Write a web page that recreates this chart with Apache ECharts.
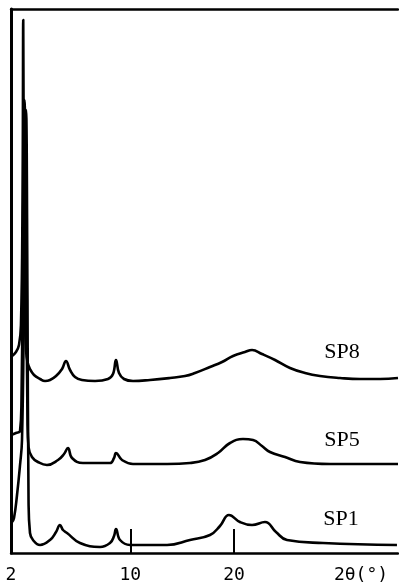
<!DOCTYPE html>
<html>
<head>
<meta charset="utf-8">
<script src="https://cdn.jsdelivr.net/npm/echarts@6/dist/echarts.min.js"></script>
<style>html,body{margin:0;padding:0;background:#fff;}#c{width:399px;height:585px;}</style>
</head>
<body>
<div id="c"></div>
<script>
// 2θ axis tick labels
const tickValues = [10, 20];
const axisMin = -1.5, axisMax = 35.8;
const originLabel = '2';
const axisTitle = '2θ(°)';
const seriesNames = ['SP8', 'SP5', 'SP1'];

// SP8
const sp8Theta = [-1.50,-1.02,-0.73,-0.54,-0.39,-0.32,-0.25,-0.15,-0.05,0.09,0.33,0.72,1.30,1.78,2.26,2.84,3.42,3.80,4.19,4.67,5.34,6.60,7.85,8.33,8.62,8.91,9.39,10.26,11.90,13.83,15.27,16.23,17.68,18.84,19.90,21.05,21.73,22.69,23.95,25.39,26.84,28.28,30.21,32.14,34.07,35.80];
const sp8Int   = [196,201,208,228,353,533,353,233,203,191,184,178,174,172,173,177,184,192,183,176,173,172,174,179,193,180,174,172,173,175,177,180,186,191,197,201,203,199,193,185,180,177,175,174,174,175];

// SP5
const sp5Theta = [-1.50,-1.02,-0.63,-0.49,-0.34,-0.20,-0.05,0.09,0.19,0.52,1.10,1.97,3.03,3.61,3.99,4.38,5.44,8.04,8.43,8.62,9.20,10.26,13.54,15.75,17.20,18.45,19.61,20.86,21.83,22.69,23.46,24.91,26.36,29.25,32.14,35.80];
const sp5Int   = [118,120,122,153,303,453,303,133,106,96,91,88,93,99,105,95,90,90,95,100,93,89,89,90,93,100,110,114,113,107,101,96,91,89,89,89];

// SP1
const sp1Theta = [-1.40,-1.21,-0.92,-0.63,-0.44,-0.25,-0.05,0.09,0.19,0.33,0.62,1.30,2.26,2.84,3.22,3.51,3.90,5.15,7.08,8.04,8.43,8.62,9.01,9.97,13.54,15.75,17.68,18.64,19.51,20.57,21.73,22.98,24.04,25.10,28.57,35.70];
const sp1Int   = [31,35,58,88,113,253,443,253,53,20,13,8,13,21,28,23,20,10,6,10,17,24,13,8,8,13,18,27,38,31,28,31,21,13,10,8];

function pairs(xs, ys){ return xs.map((x,i)=>[x, ys[i]]); }

const chart = echarts.init(document.getElementById('c'), null, {renderer:'canvas'});
const lineStyle = {color:'#000', width:2.6};
function mk(name, xs, ys){
  return {name, type:'line', data:pairs(xs,ys), showSymbol:false, symbol:'none',
    smooth:0.45, lineStyle, silent:true, animation:false, z:3};
}
chart.setOption({
  animation:false,
  backgroundColor:'#fff',
  grid:{left:11, right:1, top:9, bottom:32, show:false},
  xAxis:[{type:'value', min:axisMin, max:axisMax, position:'bottom',
    axisLine:{show:true, onZero:false, lineStyle:{color:'#000', width:2.5}},
    axisTick:{show:true, inside:true, length:24, customValues:tickValues, lineStyle:{color:'#000', width:2}},
    axisLabel:{show:true, customValues:[axisMin].concat(tickValues), margin:13,
      fontFamily:'DejaVu Sans Mono', fontSize:18, color:'#000',
      formatter:v=> (v===axisMin ? originLabel : String(v))},
    splitLine:{show:false}},
   {type:'value', min:axisMin, max:axisMax, position:'top',
    axisLine:{show:true, onZero:false, lineStyle:{color:'#000', width:2.5}},
    axisTick:{show:false}, axisLabel:{show:false}, splitLine:{show:false}}],
  yAxis:{type:'value', min:0, max:544,
    axisLine:{show:true, onZero:false, lineStyle:{color:'#000', width:3}},
    axisTick:{show:false}, axisLabel:{show:false}, splitLine:{show:false}},
  series:[mk(seriesNames[0], sp8Theta, sp8Int), mk(seriesNames[1], sp5Theta, sp5Int), mk(seriesNames[2], sp1Theta, sp1Int)],
  graphic:[
    {type:'text', x:342, y:352, style:{text:seriesNames[0], fill:'#000', font:'22px "Liberation Serif"', align:'center', verticalAlign:'middle'}},
    {type:'text', x:342, y:440, style:{text:seriesNames[1], fill:'#000', font:'22px "Liberation Serif"', align:'center', verticalAlign:'middle'}},
    {type:'text', x:341, y:519, style:{text:seriesNames[2], fill:'#000', font:'22px "Liberation Serif"', align:'center', verticalAlign:'middle'}},
    {type:'text', x:361, y:575, style:{text:axisTitle, fill:'#000', font:'18px "DejaVu Sans Mono"', align:'center', verticalAlign:'middle'}}
  ]
});
</script>
</body>
</html>
